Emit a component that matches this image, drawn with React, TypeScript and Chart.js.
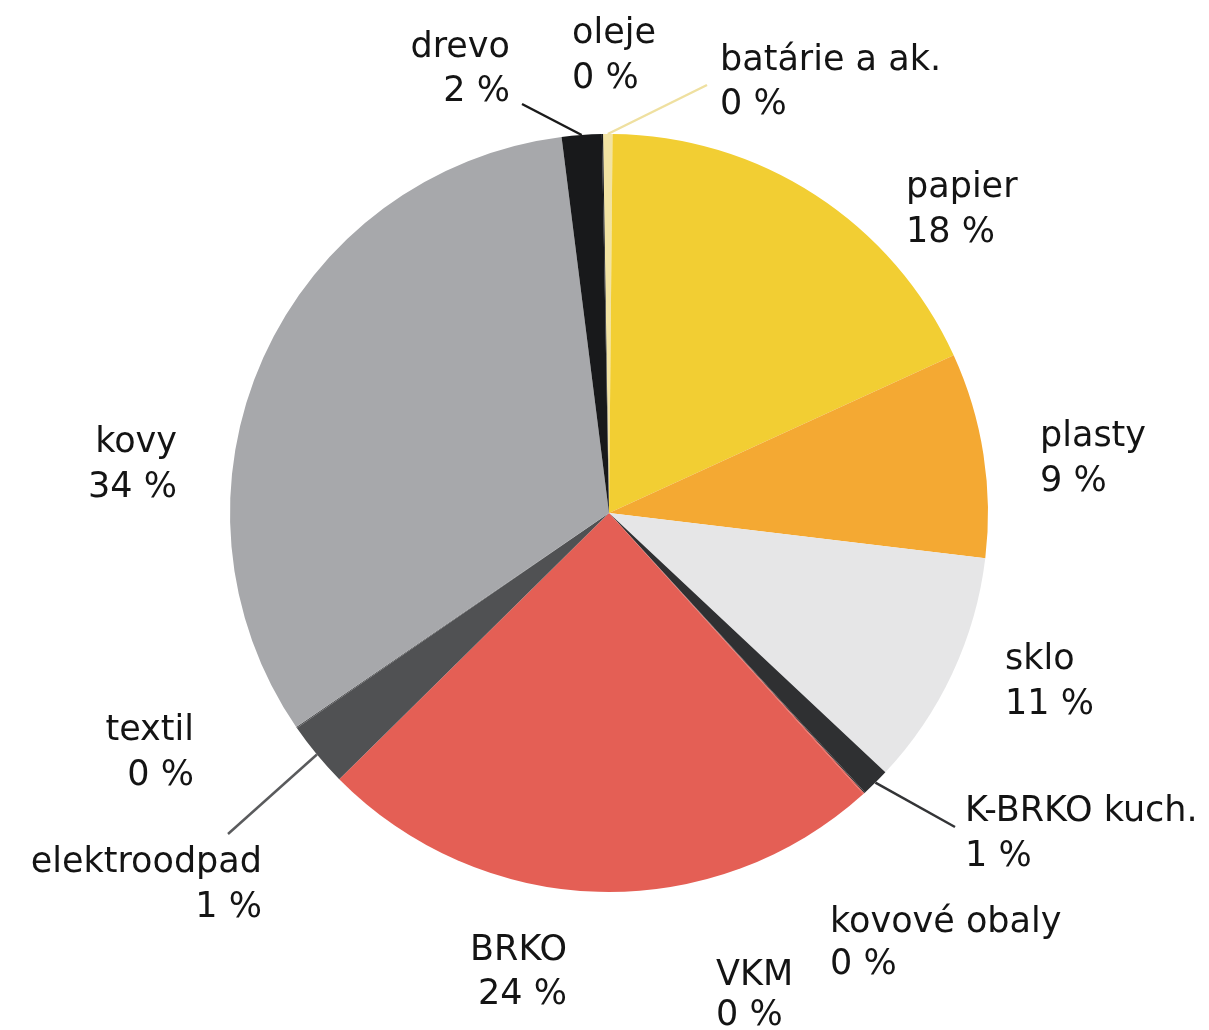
import React, { useEffect, useRef } from "react";
import { Chart, registerables } from "chart.js";

Chart.register(...registerables);

// ---- data ----
const categories = [
  "batárie a ak.",
  "papier",
  "plasty",
  "sklo",
  "K-BRKO kuch.",
  "kovové obaly",
  "VKM",
  "BRKO",
  "elektroodpad",
  "textil",
  "kovy",
  "drevo",
  "oleje",
];
// slice sizes (share in %)
const sliceValues = [0.4, 18.05, 8.75, 10.1, 1.2, 0.05, 0.05, 24.35, 2.8, 0.05, 32.6, 1.7, 0.05];
// percentages as printed in the labels
const shownPercent = [0, 18, 9, 11, 1, 0, 0, 24, 1, 0, 34, 2, 0];

// ---- styles ----
const colors = [
  "#F2E3A2",
  "#F2CE33",
  "#F4A933",
  "#E6E6E7",
  "#2F3032",
  "#2F3032",
  "#E45F55",
  "#E45F55",
  "#505153",
  "#505153",
  "#A7A8AB",
  "#18191B",
  "#18191B",
];

// label placement relative to pie centre: [dx, dy of first baseline, align, line gap]
const labelLayout: [number, number, "left" | "right", number][] = [
  [111, -443, "left", 44],
  [297, -316, "left", 45],
  [431, -67, "left", 45],
  [396, 156, "left", 45],
  [356, 308, "left", 45],
  [221, 419, "left", 42],
  [107, 472, "left", 40],
  [-42, 447, "right", 44],
  [-347, 359, "right", 45],
  [-415, 227, "right", 45],
  [-432, -61, "right", 45],
  [-99, -456, "right", 44],
  [-37, -470, "left", 45],
];

// leader lines: [index, end dx, end dy, colour]
const leaders: [number, number, number, string][] = [
  [11, -87, -409, "#1A1A1A"],
  [0, 98, -428, "#EFE0A0"],
  [4, 346, 314, "#333436"],
  [8, -381, 321, "#5A5B5D"],
];

const labelPlugin = {
  id: "pieLabels",
  afterDraw(chart: any) {
    const ctx = chart.ctx;
    const meta = chart.getDatasetMeta(0);
    const arc0 = meta.data[0];
    const cx = arc0.x;
    const cy = arc0.y;
    ctx.save();
    // leader lines
    ctx.lineWidth = 2.5;
    leaders.forEach(([i, ex, ey, col]) => {
      const arc = meta.data[i];
      const mid = (arc.startAngle + arc.endAngle) / 2;
      const r = arc.outerRadius;
      ctx.strokeStyle = col;
      ctx.beginPath();
      ctx.moveTo(cx + Math.cos(mid) * r, cy + Math.sin(mid) * r);
      ctx.lineTo(cx + ex, cy + ey);
      ctx.stroke();
    });
    // labels
    ctx.fillStyle = "#141414";
    ctx.font = '35px "DejaVu Sans"';
    ctx.textBaseline = "alphabetic";
    categories.forEach((name, i) => {
      const [dx, dy, align, gap] = labelLayout[i];
      ctx.textAlign = align;
      ctx.fillText(name, cx + dx, cy + dy);
      ctx.fillText(shownPercent[i] + " %", cx + dx, cy + dy + gap);
    });
    ctx.restore();
  },
};

export default function App() {
  const ref = useRef<HTMLCanvasElement | null>(null);
  useEffect(() => {
    if (!ref.current) return;
    const chart = new Chart(ref.current, {
      type: "pie",
      data: {
        labels: categories,
        datasets: [
          {
            data: sliceValues,
            backgroundColor: colors,
            borderWidth: 0,
            hoverOffset: 0,
            offset: 0,
          },
        ],
      },
      options: {
        animation: false,
        responsive: false,
        devicePixelRatio: 1,
        rotation: -0.9,
        layout: { padding: { left: 9, right: 0, top: 134, bottom: 138 } },
        plugins: {
          legend: { display: false },
          tooltip: { enabled: false },
        },
      },
      plugins: [labelPlugin],
    });
    return () => chart.destroy();
  }, []);
  return (
    <div style={{ position: "fixed", left: 0, top: 0, width: 1209, height: 1030, background: "#fff" }}>
      <canvas ref={ref} width={1209} height={1030} style={{ width: 1209, height: 1030 }} />
    </div>
  );
}
